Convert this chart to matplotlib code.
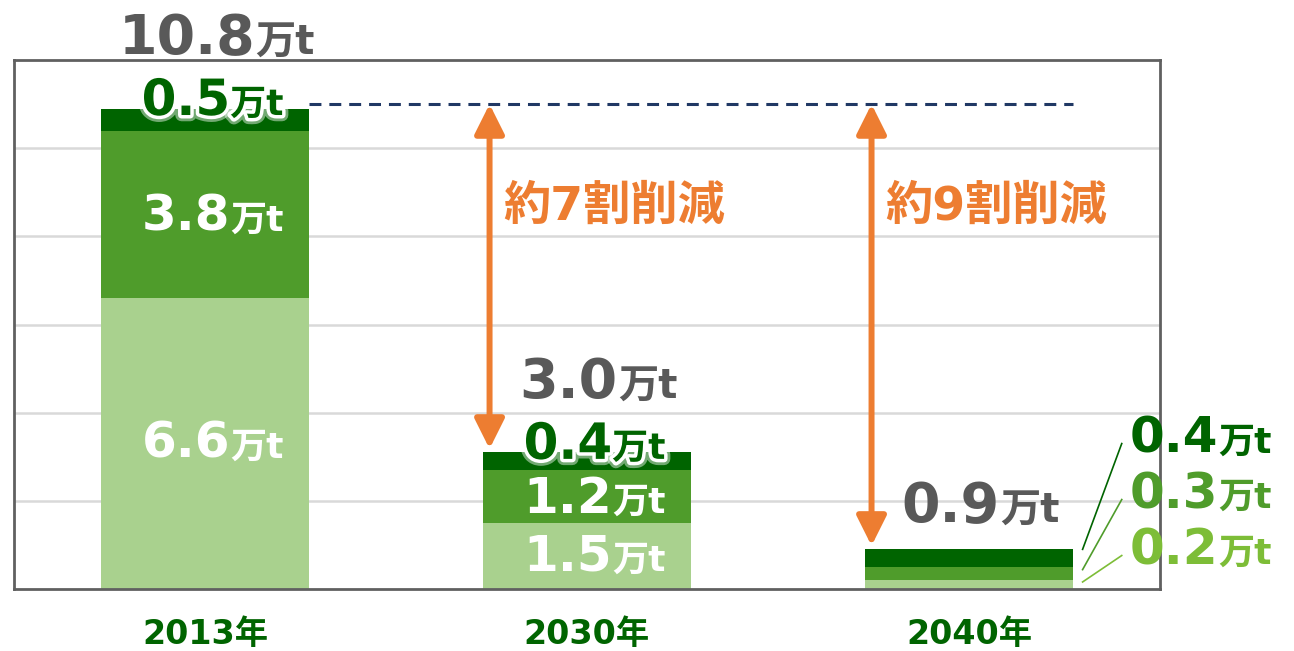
import matplotlib
matplotlib.use("Agg")
import matplotlib.pyplot as plt
from matplotlib import patheffects
from matplotlib.offsetbox import TextArea, HPacker, AnnotationBbox

# ==========================================
# DATA
# ==========================================

years = ["2013年", "2030年", "2040年"]
light_vals = [6.6, 1.5, 0.2]
mid_vals = [3.8, 1.2, 0.3]
dark_vals = [0.5, 0.4, 0.4]
total_labels = ["10.8", "3.0", "0.9"]
cut_labels = ["約7割削減", "約9割削減"]
unit = "万t"

# ==========================================
# STYLE
# ==========================================

FONT = ["DejaVu Sans", "Noto Sans CJK JP"]
C_LIGHT = "#A9D18E"
C_MID = "#4F9C2B"
C_DARK = "#006400"
C_LEAD_LIGHT = "#7DBD37"
C_GRAY = "#595959"
C_ORANGE = "#ED7D31"
C_DASH = "#203864"
BAR_W = 0.545

halo = [patheffects.withStroke(linewidth=9, foreground="white", alpha=0.45),
        patheffects.withStroke(linewidth=5, foreground="white")]


def value_label(ax, x, y, num, color, big=False, glow=False, align=(0.5, 0.5)):
    ns, us = (40, 29) if big else (36, 26)
    pe = halo if glow else []
    props = dict(color=color, fontweight="bold", family=FONT, path_effects=pe)
    a = TextArea(num, textprops=dict(props, fontsize=ns))
    b = TextArea(unit, textprops=dict(props, fontsize=us))
    box = HPacker(children=[a, b], align="baseline", pad=0, sep=0)
    ab = AnnotationBbox(box, (x, y), xycoords="data", frameon=False,
                        box_alignment=align, annotation_clip=False, zorder=5)
    ax.add_artist(ab)


fig = plt.figure(figsize=(12.94, 6.51), dpi=100)
ax = fig.add_axes([0.0108, 0.0952, 0.8856, 0.8126])

x = list(range(len(years)))
bottom_mid = light_vals
bottom_dark = [l + m for l, m in zip(light_vals, mid_vals)]
tops = [b + d for b, d in zip(bottom_dark, dark_vals)]

ax.bar(x, light_vals, width=BAR_W, color=C_LIGHT, zorder=2)
ax.bar(x, mid_vals, width=BAR_W, bottom=bottom_mid, color=C_MID, zorder=2)
ax.bar(x, dark_vals, width=BAR_W, bottom=bottom_dark, color=C_DARK, zorder=2)

ax.set_xlim(-0.5, 2.5)
ax.set_ylim(0, 12)
ax.set_yticks([2, 4, 6, 8, 10])
ax.yaxis.grid(True, color="#D9D9D9", linewidth=1.8, zorder=0)
ax.set_axisbelow(True)
ax.tick_params(axis="y", length=0, labelleft=False)
ax.set_xticks(x)
ax.set_xticklabels(years, fontsize=24, fontweight="bold", color=C_DARK,
                   family=FONT)
ax.tick_params(axis="x", length=0, pad=21)
for s in ax.spines.values():
    s.set_color("#606060")
    s.set_linewidth(2)

# ラベル（各バー）
for i in range(2):
    value_label(ax, i + 0.02, bottom_mid[i] / 2 if i == 0 else light_vals[i] / 2 - 0.02,
                f"{light_vals[i]:.1f}", "white")
    value_label(ax, i + 0.02, bottom_mid[i] + mid_vals[i] / 2 - 0.05,
                f"{mid_vals[i]:.1f}", "white")
    value_label(ax, i + 0.02, tops[i] + 0.17, f"{dark_vals[i]:.1f}", C_DARK,
                glow=True)

# 合計
for i in range(3):
    off = 1.58 if i < 2 else 0.97
    value_label(ax, i + 0.03, tops[i] + off, total_labels[i], C_GRAY, big=True)

# 2040 右側ラベル
right_cols = [C_DARK, C_MID, C_LEAD_LIGHT]
right_vals = [dark_vals[2], mid_vals[2], light_vals[2]]
right_y = [3.42, 2.15, 0.88]
start_y = [tops[2], bottom_mid[2] + mid_vals[2] * 0.8, light_vals[2] * 0.8]
for v, c, ty, sy in zip(right_vals, right_cols, right_y, start_y):
    value_label(ax, 2.42, ty, f"{v:.1f}", c, align=(0, 0.5))
    ax.plot([2 + BAR_W / 2 + 0.025, 2.4], [sy, ty - 0.12], color=c,
            linewidth=1.2, zorder=4, clip_on=False)

# 点線
ref = tops[0] + 0.1
ax.plot([0 + BAR_W / 2, 2 + BAR_W / 2], [ref, ref], color=C_DASH,
        linewidth=2.2, dashes=(3.9, 2.6), zorder=3)

# 矢印 + 削減率
for i, txt in zip([1, 2], cut_labels):
    ax.annotate("", xy=(i - 0.255, ref), xytext=(i - 0.255, tops[i] + 0.08),
                arrowprops=dict(arrowstyle="<|-|>,head_length=0.6,head_width=0.3",
                                color=C_ORANGE, lw=4.3, mutation_scale=30,
                                shrinkA=0, shrinkB=0),
                zorder=4)
    ax.text(i - 0.22, 8.65, txt, fontsize=34, fontweight="bold",
            color=C_ORANGE, family=FONT, ha="left", va="center")

plt.savefig("out.png", dpi=100)
